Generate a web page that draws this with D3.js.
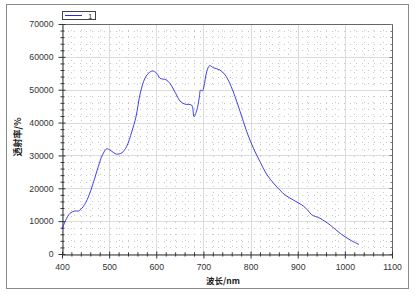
<!DOCTYPE html>
<html>
<head>
<meta charset="utf-8">
<script src="https://cdn.jsdelivr.net/npm/d3@7"></script>
<style>
  body { margin: 0; background: #fff; }
  svg { display: block; font-family: 'Liberation Sans', Arial, sans-serif; }
</style>
</head>
<body>
<svg id="chart" width="416" height="296"></svg>
<script>
// wavelength (nm) and transmittance
var wavelength = [400, 408, 417, 427, 435, 445, 456, 466, 477, 486, 495, 502, 510, 516, 527, 537, 548, 557, 566, 576, 585, 592, 601, 608, 621, 629, 643, 650, 661, 675, 680, 686, 691, 694, 698, 701, 707, 713, 721, 735, 746, 756, 767, 778, 792, 806, 820, 834, 852, 873, 891, 912, 922, 930, 947, 969, 990, 1011, 1030]
var transmit = [7600, 10300, 12400, 13100, 13100, 14400, 17400, 21500, 26600, 30200, 32000, 31600, 30800, 30400, 30800, 32700, 37200, 41800, 48900, 53500, 55200, 55700, 55000, 53500, 53000, 51900, 48400, 46600, 45600, 45300, 41800, 43800, 47400, 49900, 49600, 50900, 55500, 57300, 56700, 56000, 54500, 51900, 47900, 43300, 37200, 32200, 28100, 24300, 21000, 18000, 16400, 14600, 13200, 11900, 10900, 8800, 6300, 4300, 2900]
var xTicks = [400, 500, 600, 700, 800, 900, 1000, 1100]
var yTicks = [0, 10000, 20000, 30000, 40000, 50000, 60000, 70000]
var seriesName = '1'

var svg = d3.select('#chart')
// note: "top" is taken by window.top, so use other names
var plotL = 62, plotR = 392, plotT = 24, plotB = 254

var x = d3.scaleLinear().domain([400, 1100]).range([plotL, plotR])
var y = d3.scaleLinear().domain([0, 70000]).range([plotB, plotT])

var xMinor = d3.range(400, 1101, 20).filter((d) => d % 100 !== 0)
var yMinor = d3.range(0, 70001, 2000).filter((d) => d % 10000 !== 0)
var px = (v) => Math.round(v) + 0.5

// outer frame
svg.append('rect')
  .attr('x', 6.5).attr('y', 4.5).attr('width', 402).attr('height', 284)
  .attr('fill', '#fff').attr('stroke', '#8a8a8a')

// minor dotted grid
var grid = svg.append('g')
grid.selectAll('.vm').data(xMinor).enter().append('line')
  .attr('x1', (d) => px(x(d))).attr('x2', (d) => px(x(d)))
  .attr('y1', plotT).attr('y2', plotB)
  .attr('stroke', '#c8c8c8').attr('stroke-dasharray', '1,5')
grid.selectAll('.hm').data(yMinor).enter().append('line')
  .attr('y1', (d) => px(y(d))).attr('y2', (d) => px(y(d)))
  .attr('x1', plotL).attr('x2', plotR)
  .attr('stroke', '#c8c8c8').attr('stroke-dasharray', '1,5')

// major grid
grid.selectAll('.vM').data(xTicks).enter().append('line')
  .attr('x1', (d) => px(x(d))).attr('x2', (d) => px(x(d)))
  .attr('y1', plotT).attr('y2', plotB)
  .attr('stroke', '#dcdcdc')
grid.selectAll('.hM').data(yTicks).enter().append('line')
  .attr('y1', (d) => px(y(d))).attr('y2', (d) => px(y(d)))
  .attr('x1', plotL).attr('x2', plotR)
  .attr('stroke', '#dcdcdc')

// plot frame (top and right)
svg.append('path')
  .attr('d', `M${plotL},${plotT + 0.5}H${plotR + 0.5}V${plotB}`)
  .attr('fill', 'none').attr('stroke', '#666')

// right side inner ticks
svg.append('g').selectAll('line').data(yMinor.concat(yTicks)).enter().append('line')
  .attr('x1', plotR + 0.5).attr('x2', (d) => plotR + 0.5 - (d % 10000 === 0 ? 3 : 2))
  .attr('y1', (d) => px(y(d))).attr('y2', (d) => px(y(d)))
  .attr('stroke', '#777')

// axes
var yAxis = svg.append('g')
  .attr('transform', `translate(${plotL + 0.5},0)`)
  .call(d3.axisLeft(y).tickValues(yTicks).tickFormat(d3.format('d')).tickSizeOuter(0))
yAxis.selectAll('.tick line').attr('x2', -4).attr('x1', 3)
yAxis.selectAll('.tick text').attr('x', -9)
var yMinorAxis = svg.append('g')
  .attr('transform', `translate(${plotL + 0.5},0)`)
  .call(d3.axisLeft(y).tickValues(yMinor).tickFormat('').tickSizeOuter(0))
yMinorAxis.selectAll('.tick line').attr('x2', -2).attr('x1', 2)
yMinorAxis.select('.domain').remove()

var xAxis = svg.append('g')
  .attr('transform', `translate(0,${plotB + 0.5})`)
  .call(d3.axisBottom(x).tickValues(xTicks).tickFormat(d3.format('d')).tickSizeOuter(0))
xAxis.selectAll('.tick line').attr('y2', 4).attr('y1', -3)
xAxis.selectAll('.tick text').attr('y', 9)
var xMinorAxis = svg.append('g')
  .attr('transform', `translate(0,${plotB + 0.5})`)
  .call(d3.axisBottom(x).tickValues(xMinor).tickFormat('').tickSizeOuter(0))
xMinorAxis.selectAll('.tick line').attr('y2', 2).attr('y1', -2)
xMinorAxis.select('.domain').remove()

svg.selectAll('.domain, .tick line').attr('stroke', '#333')
svg.selectAll('.tick text').attr('fill', '#333').style('font-size', '8.7px').style('font-family', "'Liberation Sans', Arial, sans-serif")

// data line
var line = d3.line()
  .x((d, i) => x(wavelength[i]))
  .y((d) => y(d))
  .curve(d3.curveCatmullRom.alpha(0.5))
svg.append('path')
  .datum(transmit)
  .attr('d', line)
  .attr('fill', 'none')
  .attr('stroke', '#2a2ae6')
  .attr('stroke-width', 0.9)

// legend
var legend = svg.append('g')
legend.append('rect')
  .attr('x', 62.5).attr('y', 11.5).attr('width', 33).attr('height', 8)
  .attr('fill', '#fff').attr('stroke', '#444')
legend.append('line')
  .attr('x1', 65).attr('x2', 82).attr('y1', 15.5).attr('y2', 15.5)
  .attr('stroke', '#2a2ae6')
legend.append('text')
  .attr('x', 88).attr('y', 18.5)
  .style('font-size', '8px').attr('fill', '#333')
  .text(seriesName)

// axis titles
svg.append('text')
  .attr('x', 223).attr('y', 283.5)
  .attr('text-anchor', 'middle')
  .style('font-size', '8.5px').style('font-weight', 'bold')
  .style('font-family', "'Noto Sans CJK SC', sans-serif")
  .attr('fill', '#222')
  .text('波长/nm')
svg.append('text')
  .attr('transform', 'translate(21,137) rotate(-90)')
  .attr('text-anchor', 'middle')
  .style('font-size', '9px').style('font-weight', 'bold')
  .style('font-family', "'Noto Sans CJK SC', sans-serif")
  .attr('fill', '#222')
  .text('透射率/%')
</script>
</body>
</html>
